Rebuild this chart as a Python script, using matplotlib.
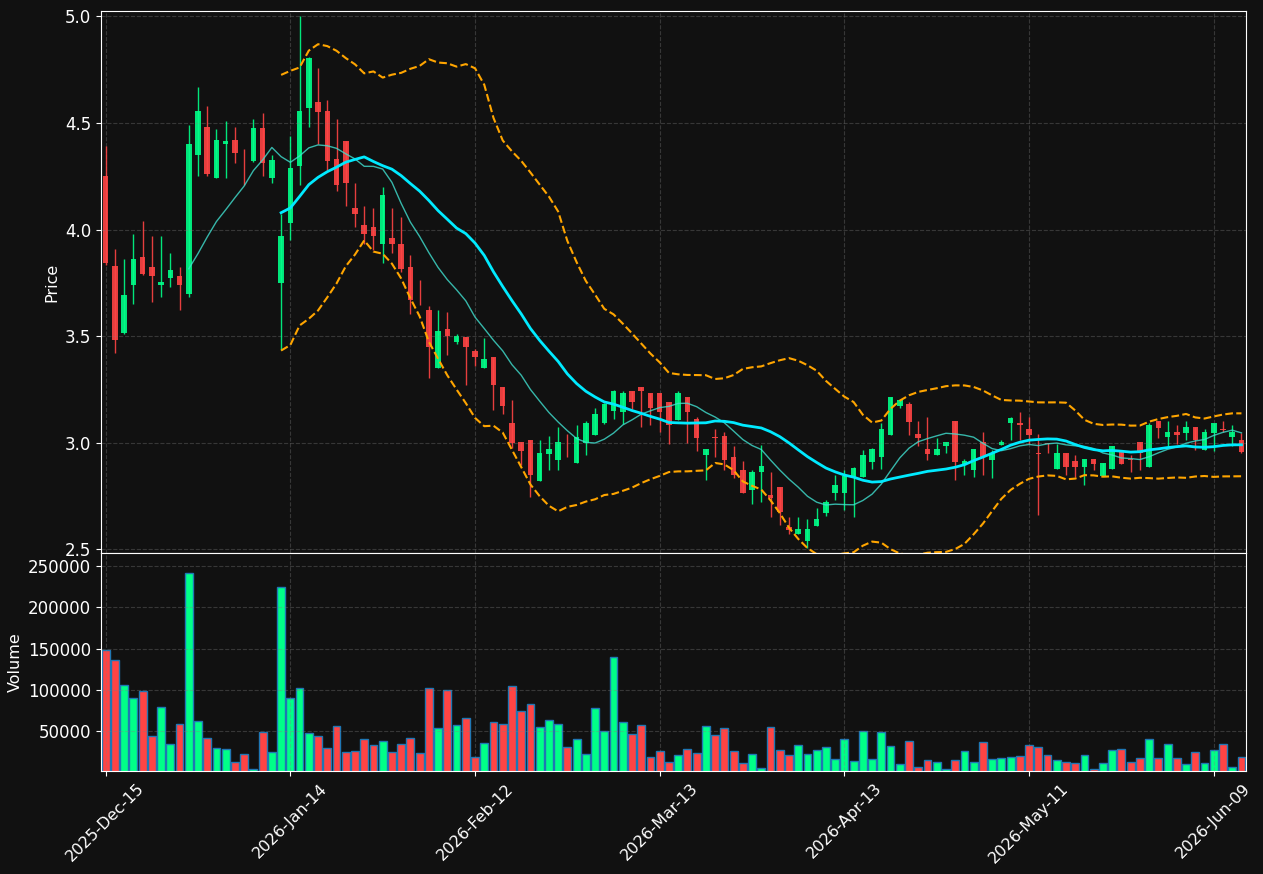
import matplotlib
matplotlib.use("Agg")
from matplotlib import pyplot as plt
import numpy as np
import pandas as pd

# OHLC + volume
opens = [4.253, 3.830, 3.517, 3.739, 3.872, 3.822, 3.739, 3.771, 3.784, 3.699,
         4.349, 4.483, 4.241, 4.401, 4.422, 4.333, 4.320, 4.475, 4.241, 3.748,
         4.031, 4.297, 4.569, 4.600, 4.555, 4.333, 4.413, 4.102, 4.023, 4.014,
         3.931, 3.962, 3.934, 3.822, 3.652, 3.624, 3.349, 3.535, 3.471, 3.494,
         3.432, 3.349, 3.404, 3.262, 3.094, 3.004, 3.014, 2.821, 2.949, 2.921,
         2.994, 2.903, 3.001, 3.038, 3.091, 3.151, 3.143, 3.244, 3.262, 3.234,
         3.234, 3.192, 3.107, 3.216, 3.112, 2.941, 3.024, 3.032, 2.932, 2.874,
         2.779, 2.861, 2.756, 2.794, 2.606, 2.572, 2.541, 2.611, 2.671, 2.763,
         2.763, 2.841, 2.841, 2.911, 2.931, 3.038, 3.171, 3.184, 3.042, 2.972,
         2.941, 2.983, 3.104, 2.901, 2.870, 3.003, 2.921, 2.991, 3.091, 3.094,
         3.066, 2.950, 3.001, 2.879, 2.952, 2.915, 2.887, 2.924, 2.846, 2.879,
         2.957, 2.924, 3.003, 2.887, 3.104, 3.029, 3.052, 3.048, 3.074, 2.968,
         3.045, 3.065, 3.029, 3.014]
highs = [4.391, 3.908, 3.864, 3.980, 4.042, 3.970, 3.970, 3.890, 3.822, 4.491,
         4.670, 4.581, 4.473, 4.510, 4.481, 4.378, 4.519, 4.545, 4.351, 4.075,
         4.439, 5.000, 4.811, 4.758, 4.608, 4.519, 4.415, 4.220, 4.111, 4.101,
         4.200, 4.101, 4.058, 3.880, 3.763, 3.642, 3.624, 3.611, 3.510, 3.494,
         3.440, 3.489, 3.404, 3.262, 3.200, 3.004, 3.014, 3.014, 3.032, 3.073,
         3.040, 3.084, 3.101, 3.163, 3.185, 3.246, 3.243, 3.244, 3.262, 3.234,
         3.234, 3.192, 3.243, 3.216, 3.120, 2.972, 3.065, 3.050, 2.985, 2.915,
         2.874, 2.988, 2.864, 2.794, 2.650, 2.650, 2.640, 2.693, 2.732, 2.851,
         2.874, 2.885, 2.968, 2.975, 3.091, 3.216, 3.202, 3.192, 3.101, 3.120,
         3.022, 3.003, 3.104, 2.924, 2.972, 3.050, 2.968, 3.014, 3.120, 3.145,
         3.120, 3.042, 3.001, 2.993, 2.952, 2.942, 2.924, 2.924, 2.906, 2.986,
         2.957, 2.942, 3.003, 3.094, 3.104, 3.101, 3.081, 3.101, 3.074, 3.065,
         3.094, 3.101, 3.081, 3.048]
lows = [3.835, 3.420, 3.510, 3.649, 3.785, 3.660, 3.683, 3.729, 3.623, 3.683,
        4.251, 4.251, 4.241, 4.241, 4.313, 4.209, 4.318, 4.251, 4.218, 3.433,
        3.951, 4.210, 4.483, 4.399, 4.279, 4.181, 4.111, 4.013, 3.931, 3.903,
        3.841, 3.889, 3.800, 3.603, 3.645, 3.303, 3.349, 3.411, 3.463, 3.270,
        3.360, 3.349, 3.153, 3.135, 2.973, 2.895, 2.745, 2.821, 2.870, 2.870,
        2.932, 2.903, 2.942, 3.038, 3.090, 3.112, 3.087, 3.156, 3.074, 3.083,
        3.050, 2.993, 3.107, 3.001, 2.960, 2.825, 2.932, 2.870, 2.834, 2.763,
        2.712, 2.720, 2.650, 2.616, 2.572, 2.572, 2.508, 2.611, 2.658, 2.732,
        2.686, 2.650, 2.841, 2.879, 2.879, 3.038, 3.161, 3.038, 2.983, 2.921,
        2.941, 2.952, 2.825, 2.851, 2.841, 2.851, 2.834, 2.990, 3.012, 3.012,
        2.993, 2.662, 2.953, 2.879, 2.851, 2.841, 2.800, 2.870, 2.846, 2.879,
        2.901, 2.862, 2.870, 2.887, 3.022, 2.985, 2.993, 3.012, 2.968, 2.968,
        2.960, 3.050, 2.985, 2.950]
closes = [3.841, 3.481, 3.695, 3.864, 3.791, 3.781, 3.752, 3.812, 3.739, 4.403,
          4.555, 4.259, 4.422, 4.413, 4.359, 4.329, 4.475, 4.311, 4.324, 3.972,
          4.290, 4.555, 4.803, 4.551, 4.320, 4.209, 4.217, 4.071, 3.978, 3.969,
          4.164, 3.931, 3.817, 3.670, 3.649, 3.451, 3.522, 3.499, 3.502, 3.451,
          3.401, 3.394, 3.269, 3.171, 3.001, 2.959, 2.851, 2.952, 2.972, 3.004,
          2.992, 3.025, 3.094, 3.136, 3.182, 3.244, 3.234, 3.189, 3.241, 3.161,
          3.143, 3.081, 3.234, 3.143, 3.021, 2.972, 3.021, 2.921, 2.851, 2.763,
          2.864, 2.892, 2.742, 2.675, 2.593, 2.595, 2.595, 2.642, 2.720, 2.802,
          2.844, 2.882, 2.944, 2.972, 3.066, 3.216, 3.202, 3.099, 3.021, 2.949,
          2.972, 3.003, 2.911, 2.915, 2.972, 2.931, 2.952, 3.003, 3.114, 3.081,
          3.038, 2.948, 2.995, 2.952, 2.887, 2.887, 2.924, 2.901, 2.906, 2.986,
          2.901, 2.918, 2.950, 3.084, 3.069, 3.052, 3.037, 3.074, 3.014, 3.052,
          3.094, 3.062, 3.052, 2.957]
volumes = [147600, 136600, 106100, 90200, 98800, 43900, 79300, 34100, 58500, 241500,
           62200, 41100, 29300, 28000, 12200, 22000, 4500, 48800, 24400, 224400,
           90200, 102400, 47600, 43900, 29300, 56100, 24400, 26000, 40200, 32900,
           37800, 24400, 34100, 41500, 23200, 102400, 53300, 100000, 57300, 65900,
           19100, 35400, 61000, 58500, 104900, 74400, 82900, 54900, 63400, 58500,
           30500, 40200, 22000, 78000, 50000, 140200, 61000, 46300, 57300, 18300,
           25600, 12200, 20700, 28000, 23200, 56100, 45100, 53700, 25600, 11000,
           22000, 5700, 54900, 26800, 20700, 32900, 22000, 26800, 30500, 16700,
           40200, 13400, 50000, 15900, 48800, 31700, 9800, 37800, 6900, 14600,
           12200, 3700, 14600, 25600, 12200, 36600, 15900, 17100, 18300, 19500,
           32900, 30500, 20700, 14600, 12200, 11000, 20700, 4500, 11000, 26800,
           28000, 12200, 17100, 40200, 17100, 34100, 17100, 9800, 24400, 11000,
           26800, 34100, 6900, 18300]
tick_labels = ['2025-Dec-15', '2026-Jan-14', '2026-Feb-12', '2026-Mar-13',
               '2026-Apr-13', '2026-May-11', '2026-Jun-09']

o = np.array(opens)
h = np.array(highs)
l = np.array(lows)
c = np.array(closes)
v = np.array(volumes)
x = np.arange(len(c))

close_s = pd.Series(c)
ma10 = close_s.rolling(10).mean()
ma20 = close_s.rolling(20).mean()
std20 = close_s.rolling(20).std(ddof=0)
bb_up = ma20 + 2 * std20
bb_low = ma20 - 2 * std20

up_col = '#00ff88'
down_col = '#ff4444'
bg = '#111111'
up = c >= o
cols = np.where(up, up_col, down_col)

fig = plt.figure(figsize=(12.63, 8.74), dpi=100, facecolor=bg)
ax1 = fig.add_axes([0.080, 0.3673, 0.9066, 0.6201], facecolor=bg)
ax2 = fig.add_axes([0.080, 0.1178, 0.9066, 0.2495], facecolor=bg, sharex=ax1)

# candles
ax1.vlines(x, l, h, colors=cols, linewidth=1, alpha=0.9)
body_h = np.maximum(np.abs(c - o), 0.004)
ax1.bar(x, body_h, bottom=np.minimum(o, c), width=0.6, color=cols, alpha=0.9)

ax1.plot(x, ma10, color='turquoise', linewidth=1, alpha=0.8)
ax1.plot(x, ma20, color='#00eaff', linewidth=2)
ax1.plot(x, bb_up, color='orange', linestyle='--', linewidth=1.5)
ax1.plot(x, bb_low, color='orange', linestyle='--', linewidth=1.5)

ax1.set_ylim(l.min() * 0.99, h.max() * 1.005)
ax1.set_ylabel("Price", color='white', fontsize=11.5)

# volume
ax2.bar(x, v, width=0.85, color=cols, edgecolor='#1f77b4', linewidth=1)
ax2.set_ylim(v.min() * 0.45, v.max() * 1.1)
ax2.set_ylabel("Volume", color='white', fontsize=11.5)

ax2.set_xlim(-0.5, len(c) - 0.5)
ax2.set_xticks(np.arange(0, len(c), 20))
ax2.set_xticklabels(tick_labels, rotation=45, ha='center')
plt.setp(ax1.get_xticklabels(), visible=False)

for ax in (ax1, ax2):
    ax.grid(True, color='gray', linestyle='--', linewidth=0.8, alpha=0.35)
    ax.tick_params(colors='white', labelsize=12)
    for s in ax.spines.values():
        s.set_color('white')
ax2.tick_params(axis='x', labelsize=11.5)

fig.savefig("out.png", dpi=100, facecolor=bg)
